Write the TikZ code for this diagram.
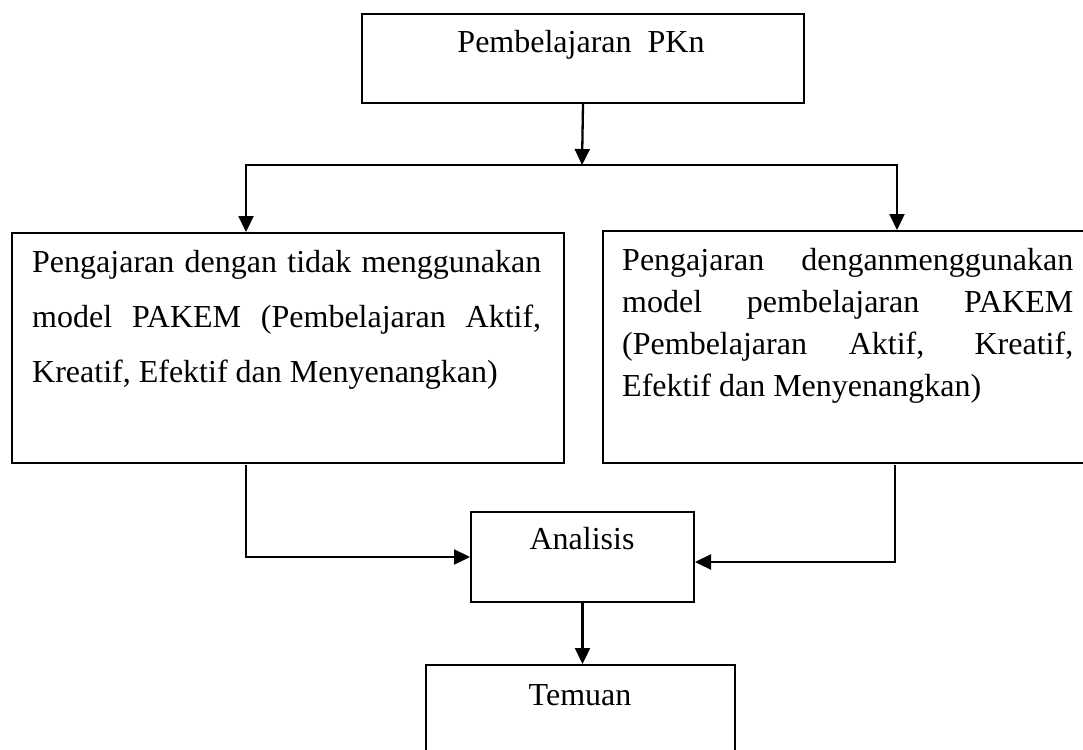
\documentclass[tikz,border=0pt]{standalone}
\usepackage{fontspec}
\setmainfont{Liberation Serif}
\usetikzlibrary{arrows.meta}
\begin{document}
\begin{tikzpicture}[x=1pt,y=-1pt,
  box/.style={draw, line width=2pt, inner sep=0pt, anchor=north west},
  txt/.style={inner sep=0pt, anchor=base west, font=\fontsize{32}{32}\selectfont},
  conn/.style={line width=2.3pt, line cap=rect},
  arr/.style={conn, -{Triangle[length=16pt,width=15pt]}}]
\useasboundingbox (0,0) rectangle (1083,749);
\clip (0,0) rectangle (1083,749);
\fill[white] (0,0) rectangle (1083,749);
% boxes
\node[box, minimum width=442pt, minimum height=89pt] (top) at (361,13) {};
\node[box, minimum width=552pt, minimum height=230pt] (left) at (11,232) {};
\node[box, minimum width=500pt, minimum height=232pt] (right) at (602,230) {};
\node[box, minimum width=223pt, minimum height=90pt] (anal) at (470,511) {};
\node[box, minimum width=309pt, minimum height=150pt] (temuan) at (425,664) {};
% texts
\node[txt, anchor=base] (toptext) at (581,53) {Pembelajaran\ \ PKn};
\node[txt] (lefttext) at (32,272) {\parbox[t]{509pt}{\hyphenpenalty=10000\exhyphenpenalty=10000\setlength{\baselineskip}{55pt}Pengajaran dengan tidak menggunakan\linebreak model PAKEM (Pembelajaran Aktif,\linebreak Kreatif, Efektif dan Menyenangkan)}};
\node[txt] (righttext) at (622,270) {\parbox[t]{451pt}{\hyphenpenalty=10000\exhyphenpenalty=10000\setlength{\baselineskip}{42.3pt}Pengajaran denganmenggunakan\linebreak model pembelajaran PAKEM\linebreak (Pembelajaran Aktif, Kreatif,\linebreak Efektif dan Menyenangkan)}};
\node[txt, anchor=base] (analtext) at (582,549) {Analisis};
\node[txt, anchor=base] (temuantext) at (580,705) {Temuan};
% connectors
\coordinate (split) at (582,165);
\coordinate (jl) at (246,165);
\coordinate (jr) at (897,165);
\coordinate (lb) at (246,466);
\coordinate (rb) at (895,466);
\draw[arr] (top.south) -- (split);
\draw[conn] (jl) -- (jr);
\draw[arr] (jl) -- (jl |- left.north);
\draw[arr] (jr) -- (jr |- right.north);
\draw[arr] (lb) |- (anal.west);
\draw[arr] (rb) |- ([yshift=-5pt]anal.east);
\draw[arr] (anal.south) -- (anal.south |- temuan.north);
\end{tikzpicture}
\end{document}
